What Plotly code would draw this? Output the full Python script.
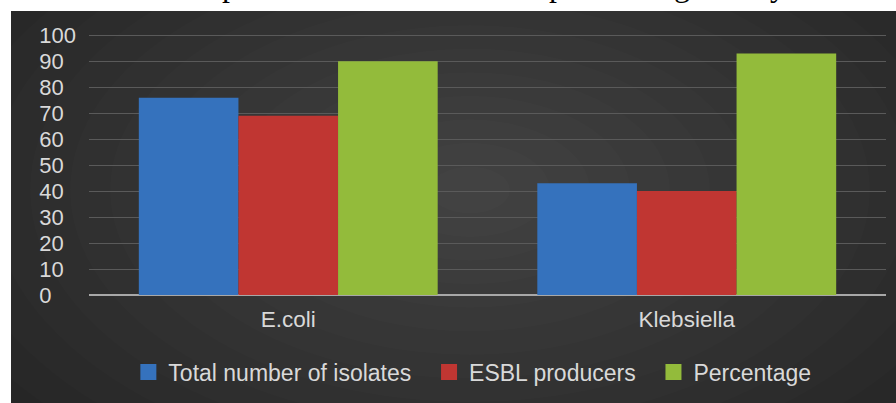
import plotly.graph_objects as go

categories = ["E.coli", "Klebsiella"]
series_names = ["Total number of isolates", "ESBL producers", "Percentage"]
total_isolates = [76, 43]
esbl_producers = [69, 40]
percentage = [90, 93]
series_values = [total_isolates, esbl_producers, percentage]
series_colors = ["#3572bd", "#c03632", "#93bb3b"]
y_tick_values = [0, 10, 20, 30, 40, 50, 60, 70, 80, 90, 100]
FS = "\u2007"
y_tick_labels = [str(v) + FS * (3 - len(str(v))) for v in y_tick_values]
caption_glyphs = ["p", "p", "g", "y"]
caption_glyph_x = [230, 557, 682, 778]

L, R, T, B = 89, 10, 34, 108
W, H = 896, 403
PW, PH = W - L - R, H - T - B

NB = "\u00a0"
legend_labels = [series_names[0] + NB * 2, series_names[1] + NB * 2, series_names[2]]

fig = go.Figure()
for name, vals, col in zip(series_names, series_values, series_colors):
    fig.add_trace(go.Bar(x=categories, y=vals, name=name, marker=dict(color=col, line=dict(width=0)),
                         showlegend=False, legendgroup=name))
for name, lab, col in zip(series_names, legend_labels, series_colors):
    fig.add_trace(go.Scatter(x=[None], y=[None], mode="markers", name=lab, legendgroup=name,
                             marker=dict(symbol="square", size=16, color=col)))

shapes = []
shapes.append(dict(type="rect", xref="paper", yref="paper", xsizemode="pixel", ysizemode="pixel",
                   xanchor=0, yanchor=0, x0=11 - L, x1=W - L + 2, y0=-(B + 2), y1=(H - B) - 11,
                   fillcolor="#262626", line=dict(width=0), layer="below"))
cx, cy = 470 - L, (T + PH) - 190
n = 14
for i in range(n):
    f = 1 - i / n
    rx, ry = 560 * f, 330 * f
    shapes.append(dict(type="circle", xref="paper", yref="paper", xsizemode="pixel", ysizemode="pixel",
                       xanchor=0, yanchor=0, x0=cx - rx, x1=cx + rx, y0=cy - ry, y1=cy + ry,
                       fillcolor="rgba(255,255,255,0.012)", line=dict(width=0), layer="below"))

annotations = []
for g, gx in zip(caption_glyphs, caption_glyph_x):
    annotations.append(dict(text=g, x=(gx - L) / PW, xref="paper", y=(295 - 5) / PH, yref="paper",
                            xanchor="center", yanchor="bottom", showarrow=False,
                            font=dict(family="Liberation Serif, Times New Roman", size=32, color="#000000")))

fig.update_layout(
    width=W, height=H,
    margin=dict(l=L, r=R, t=T, b=B, pad=0),
    paper_bgcolor="#ffffff",
    plot_bgcolor="rgba(0,0,0,0)",
    barmode="group", bargap=0.25, bargroupgap=0,
    shapes=shapes, annotations=annotations,
    font=dict(family="Liberation Sans, Arial", color="#d9d9d9"),
    legend=dict(orientation="h", x=0.481, xanchor="center", y=(295 - 372) / PH, yanchor="middle",
                font=dict(size=23, color="#d9d9d9"), bgcolor="rgba(0,0,0,0)", itemclick=False),
    xaxis=dict(showgrid=False, ticks="", tickfont=dict(size=22.5, color="#d9d9d9"), showline=False,
               ticklabelstandoff=8),
    yaxis=dict(range=[0, 100.5], tickvals=y_tick_values, ticktext=y_tick_labels, showgrid=True,
               gridcolor="#5a5a5a", gridwidth=1, zeroline=True, zerolinecolor="#a8a8a8", zerolinewidth=2,
               tickfont=dict(size=22, color="#d9d9d9"), ticks="", ticklabelstandoff=12),
)

fig.write_html("out.html")
